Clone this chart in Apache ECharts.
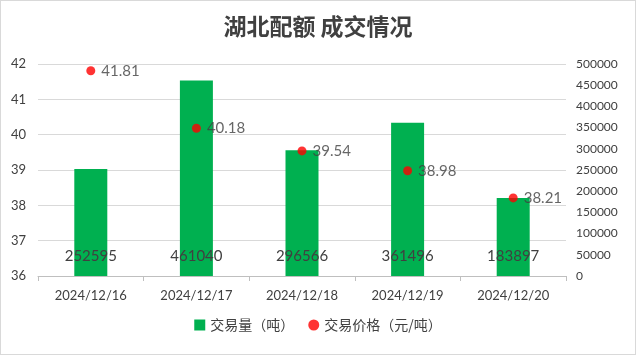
<!DOCTYPE html>
<html><head><meta charset="utf-8">
<script src="https://cdn.jsdelivr.net/npm/echarts@6/dist/echarts.min.js"></script>
<style>html,body{margin:0;padding:0;background:#fff}#c{width:634px;height:353px;border:1px solid #d9d9d9}</style>
</head><body><div id="c"></div>
<script>
const categories = ['2024/12/16','2024/12/17','2024/12/18','2024/12/19','2024/12/20'];
const volume = [252595, 461040, 296566, 361496, 183897];
const price = [41.81, 40.18, 39.54, 38.98, 38.21];
const leftTicks = [36, 42, 1];
const rightTicks = [0, 500000, 50000];

const chart = echarts.init(document.getElementById('c'));
const txt = '#404040';
const numFont = 'Lato, "Noto Sans", sans-serif';
chart.setOption({
  animation: false,
  title: {text: '湖北配额 成交情况', left: 'center', top: 9,
    textStyle: {fontFamily: '"Noto Sans CJK SC"', fontSize: 23, fontWeight: 'bold', color: txt}},
  legend: {bottom: 17, left: 'center', itemWidth: 11, itemHeight: 11, itemGap: 14,
    textStyle: {fontFamily: '"Noto Sans CJK SC"', fontSize: 14, color: txt},
    data: [{name: '交易量（吨）', icon: 'rect'}, {name: '交易价格（元/吨）', icon: 'circle'}]},
  grid: {left: 37, right: 69, top: 63, bottom: 78, containLabel: false},
  xAxis: {type: 'category', data: categories, boundaryGap: true,
    axisLine: {lineStyle: {color: '#bfbfbf'}},
    axisTick: {show: true, length: 5, lineStyle: {color: '#bfbfbf'}},
    axisLabel: {fontFamily: numFont, fontSize: 13, color: txt, margin: 13}},
  yAxis: [
    {type: 'value', min: leftTicks[0], max: leftTicks[1], interval: leftTicks[2],
      axisLine: {show: false}, axisTick: {show: false},
      splitLine: {lineStyle: {color: '#d9d9d9'}},
      axisLabel: {fontFamily: numFont, fontSize: 13, color: txt, margin: 12}},
    {type: 'value', min: rightTicks[0], max: rightTicks[1], interval: rightTicks[2],
      axisLine: {show: false}, axisTick: {show: false}, splitLine: {show: false},
      axisLabel: {fontFamily: numFont, fontSize: 12, color: txt, margin: 10,
        formatter: v => String(v)}}
  ],
  series: [
    {name: '交易量（吨）', type: 'bar', yAxisIndex: 1, data: volume, barWidth: 33,
      itemStyle: {color: '#00b050'},
      label: {show: true, position: 'insideBottom', distance: 12, fontFamily: numFont, fontSize: 15, color: txt}},
    {name: '交易价格（元/吨）', type: 'scatter', yAxisIndex: 0, data: price, symbolSize: 9,
      itemStyle: {color: '#ff0000'},
      label: {show: true, position: 'right', distance: 6, fontFamily: numFont, fontSize: 15, color: txt}}
  ]
});
</script></body></html>
